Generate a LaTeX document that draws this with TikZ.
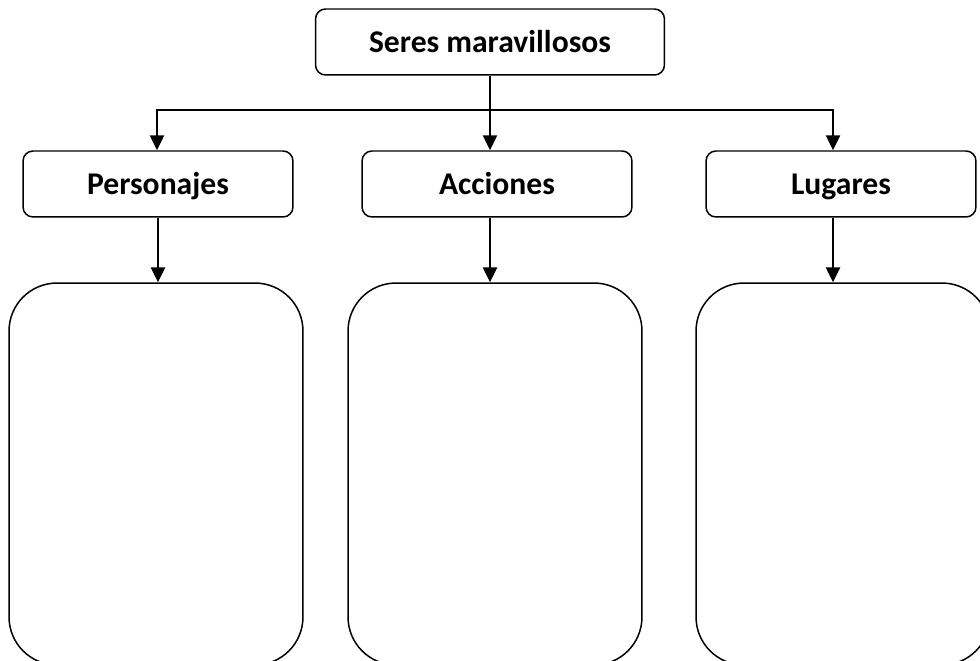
\documentclass[tikz,border=0pt]{standalone}
\usepackage{fontspec}
\setmainfont{Carlito}
\usetikzlibrary{arrows.meta}

\tikzset{
  pointer/.tip={Triangle[width=8pt,length=8.5pt]},
  titlebox/.style={draw, line width=0.85pt, rounded corners=0.2cm, inner sep=0pt,
    text height=11.6pt, text depth=0pt,
    minimum width=6.98cm, minimum height=1.32cm, font=\fontsize{18}{21}\selectfont\bfseries},
  catbox/.style={titlebox, minimum width=5.4cm},
  emptybox/.style={draw, line width=0.85pt, rounded corners=0.96cm, inner sep=0pt,
    minimum width=5.88cm, minimum height=7.64cm},
  arr/.style={line width=1.2pt, -pointer}
}

\begin{document}
\begin{tikzpicture}[x=0.02cm, y=-0.02cm]
% page = 980 x 661 px, y runs downwards
\clip (0,0) rectangle (980,661);

\node [titlebox] (seres) at (490,42) {Seres maravillosos};

\node [catbox] (pers) at (158,184) {Personajes};
\node [catbox] (acc)  at (497,184) {Acciones};
\node [catbox] (lug)  at (841,184) {Lugares};

\node [emptybox] (persbox) at (156,474) {};
\node [emptybox] (accbox)  at (495,474) {};
\node [emptybox] (lugbox)  at (843,474) {};

\coordinate (hl) at (157,110);
\coordinate (hr) at (833,110);

% branches
\draw [line width=1.2pt, pointer-pointer] (hl |- pers.north) -- (hl) -- (hr) -- (hr |- lug.north);
\draw [arr] (seres.south) -- (seres.south |- acc.north);

% down to the empty boxes
\draw [arr] (pers.south) -- (pers.south |- persbox.north);
\draw [arr] (seres.south |- acc.south) -- (seres.south |- accbox.north);
\draw [arr] (hr |- lug.south) -- (hr |- lugbox.north);

\end{tikzpicture}
\end{document}
